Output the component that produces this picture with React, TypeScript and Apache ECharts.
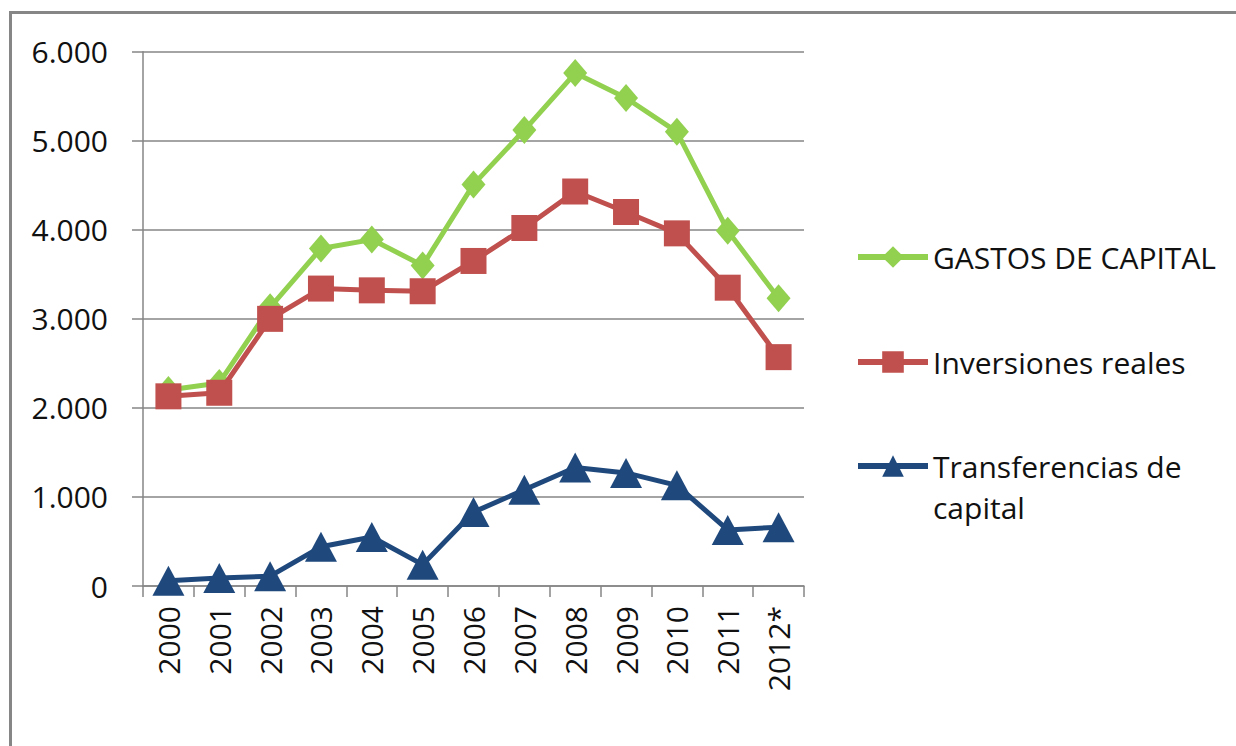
import React, { useEffect, useRef } from "react";
import * as echarts from "echarts";

const categories = ["2000", "2001", "2002", "2003", "2004", "2005", "2006", "2007", "2008", "2009", "2010", "2011", "2012*"];
const gastosCapital = [2200, 2280, 3130, 3790, 3890, 3600, 4510, 5120, 5760, 5480, 5100, 3990, 3230];
const inversionesReales = [2130, 2170, 3000, 3340, 3320, 3310, 3650, 4020, 4430, 4200, 3960, 3350, 2570];
const transferenciasCapital = [60, 90, 110, 440, 550, 240, 830, 1080, 1330, 1270, 1130, 630, 660];
const seriesNames = ["GASTOS DE CAPITAL", "Inversiones reales", "Transferencias de capital"];
const yMin = 0;
const yMax = 6000;
const yStep = 1000;

const FONT = "'Open Sans', 'DejaVu Sans', sans-serif";
const AXIS_GRAY = "#868686";

function fmt(v: number): string {
  return String(v).replace(/\B(?=(\d{3})+(?!\d))/g, ".");
}

export default function App() {
  const ref = useRef<HTMLDivElement>(null);
  useEffect(() => {
    if (!ref.current) return;
    const chart = echarts.init(ref.current, undefined, { renderer: "svg" });
    const legendBase = {
      orient: "vertical" as const,
      left: 855,
      padding: 0,
      itemWidth: 70,
      itemHeight: 27,
      lineStyle: { width: 6 },
      textStyle: { fontFamily: FONT, fontSize: 30, color: "#111", lineHeight: 41 },
    };
    chart.setOption({
      animation: false,
      backgroundColor: "#ffffff",
      graphic: [
        {
          type: "rect",
          shape: { x: 10.5, y: 12.5, width: 1400, height: 900 },
          style: { fill: "none", stroke: AXIS_GRAY, lineWidth: 3 },
          silent: true,
        },
      ],
      grid: { left: 143, right: 432, top: 51.7, bottom: 160, containLabel: false },
      legend: [
        { ...legendBase, top: 257 - 20.5, data: [seriesNames[0]] },
        { ...legendBase, top: 362 - 20.5, data: [seriesNames[1]] },
        {
          ...legendBase,
          top: 466 - 61.5,
          data: [seriesNames[2]],
          formatter: () => "\nTransferencias de\ncapital",
        },
      ],
      xAxis: {
        type: "category",
        data: categories,
        boundaryGap: true,
        axisLine: { show: true, lineStyle: { color: AXIS_GRAY, width: 1.5 } },
        axisTick: { show: true, length: 11, alignWithLabel: false, lineStyle: { color: AXIS_GRAY, width: 1.5 } },
        axisLabel: { rotate: 90, margin: 20, fontFamily: FONT, fontSize: 30, color: "#111", interval: 0 },
        splitLine: { show: false },
      },
      yAxis: {
        type: "value",
        min: yMin,
        max: yMax,
        interval: yStep,
        axisLine: { show: true, lineStyle: { color: AXIS_GRAY, width: 1.5 } },
        axisTick: { show: true, length: 11, lineStyle: { color: AXIS_GRAY, width: 1.5 } },
        axisLabel: { margin: 35, fontFamily: FONT, fontSize: 30, color: "#111", formatter: (v: number) => fmt(v) },
        splitLine: { show: true, lineStyle: { color: AXIS_GRAY, width: 1.5 } },
      },
      series: [
        {
          name: seriesNames[0],
          type: "line",
          data: gastosCapital,
          symbol: "diamond",
          symbolSize: [24, 28],
          lineStyle: { color: "#92D050", width: 5 },
          itemStyle: { color: "#92D050" },
          z: 2,
        },
        {
          name: seriesNames[1],
          type: "line",
          data: inversionesReales,
          symbol: "rect",
          symbolSize: 26,
          lineStyle: { color: "#C0504D", width: 5 },
          itemStyle: { color: "#C0504D" },
          z: 3,
        },
        {
          name: seriesNames[2],
          type: "line",
          data: transferenciasCapital,
          symbol: "triangle",
          symbolSize: [32, 30],
          lineStyle: { color: "#1F497D", width: 5 },
          itemStyle: { color: "#1F497D" },
          z: 4,
        },
      ],
    });
    return () => chart.dispose();
  }, []);
  return <div ref={ref} style={{ position: "absolute", left: 0, top: 0, width: 1236, height: 746 }} />;
}
